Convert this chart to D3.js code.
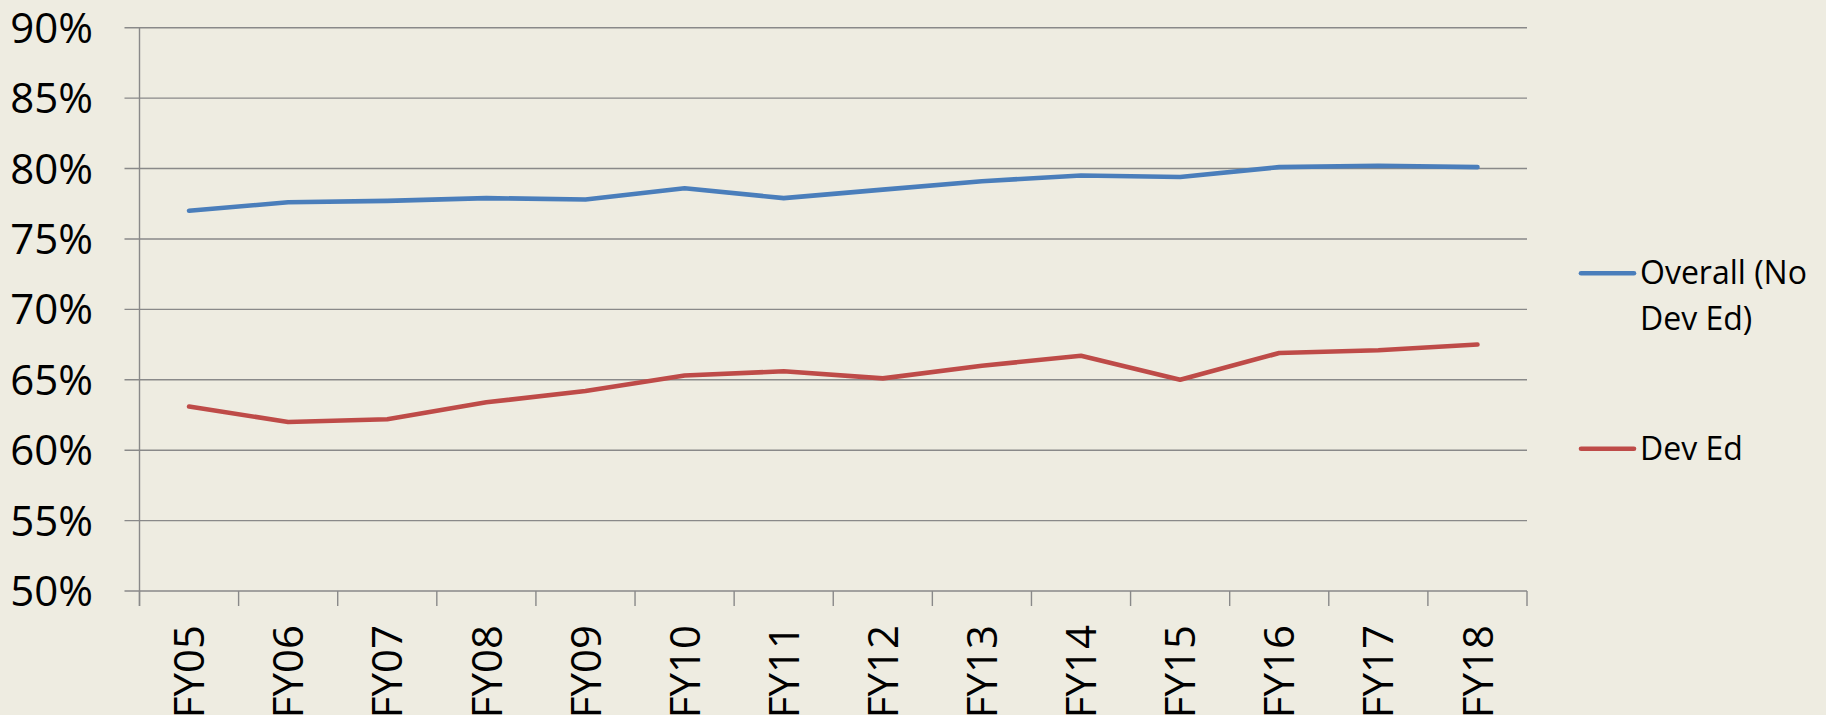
<!DOCTYPE html>
<html>
<head>
<meta charset="utf-8">
<script src="https://cdn.jsdelivr.net/npm/d3@7/dist/d3.min.js"></script>
<style>
  body { margin: 0; background: #eeece1; }
  svg { display: block; }
  text { font-family: "Open Sans", sans-serif; fill: #000; }
</style>
</head>
<body>
<div id="chart"></div>
<script>
// data
var categories = ["FY05", "FY06", "FY07", "FY08", "FY09", "FY10", "FY11",
                  "FY12", "FY13", "FY14", "FY15", "FY16", "FY17", "FY18"];
var overall = [0.770, 0.776, 0.777, 0.779, 0.778, 0.786, 0.779,
               0.785, 0.791, 0.795, 0.794, 0.801, 0.802, 0.801];
var devEd = [0.631, 0.620, 0.622, 0.634, 0.642, 0.653, 0.656,
             0.651, 0.660, 0.667, 0.650, 0.669, 0.671, 0.675];
var yTicks = [0.5, 0.55, 0.6, 0.65, 0.7, 0.75, 0.8, 0.85, 0.9];
var seriesNames = ["Overall (No Dev Ed)", "Dev Ed"];

var svgWidth = 1826;
var svgHeight = 715;
var plot = {left: 139.5, right: 1527, top: 27.7, bottom: 591};

var svg = d3.select("#chart")
            .append("svg")
            .attr("width", svgWidth)
            .attr("height", svgHeight);

svg.append("rect")
   .attr("width", svgWidth)
   .attr("height", svgHeight)
   .attr("fill", "#eeece1");

var x = d3.scaleBand()
          .domain(categories)
          .range([plot.left, plot.right])
          .padding(0);

var y = d3.scaleLinear()
          .domain([0.5, 0.9])
          .range([plot.bottom, plot.top]);

var xc = d => x(d) + x.bandwidth() / 2;
var gridColor = "#898989";

// horizontal gridlines + y labels
svg.append("g").selectAll("line")
   .data(yTicks)
   .join("line")
   .attr("x1", plot.left - 15)
   .attr("x2", plot.right)
   .attr("y1", d => y(d))
   .attr("y2", d => y(d))
   .attr("stroke", gridColor)
   .attr("stroke-width", 1.4);

svg.append("g").selectAll("text")
   .data(yTicks)
   .join("text")
   .attr("x", 93)
   .attr("y", d => y(d))
   .attr("dy", "0.36em")
   .attr("text-anchor", "end")
   .style("font-size", "42px")
   .text(d3.format(".0%"));

// y axis line
svg.append("line")
   .attr("x1", plot.left).attr("x2", plot.left)
   .attr("y1", plot.top).attr("y2", plot.bottom + 15)
   .attr("stroke", gridColor)
   .attr("stroke-width", 1.4);

// x tick marks at category boundaries
var bounds = categories.map(d => x(d)).concat([x.range()[1]]);
svg.append("g").selectAll("line")
   .data(bounds)
   .join("line")
   .attr("x1", d => d).attr("x2", d => d)
   .attr("y1", plot.bottom)
   .attr("y2", plot.bottom + 15)
   .attr("stroke", gridColor)
   .attr("stroke-width", 1.4);

// x labels, rotated
svg.append("g").selectAll("text")
   .data(categories)
   .join("text")
   .attr("transform", d => "translate(" + xc(d) + "," + (plot.bottom + 34) + ") rotate(-90)")
   .attr("dy", "0.36em")
   .attr("text-anchor", "end")
   .style("font-size", "42px")
   .text(d => d);

// lines
var line = d3.line()
             .x((d, i) => xc(categories[i]))
             .y(d => y(d));

var colors = ["#4a7ebb", "#be4b48"];
[overall, devEd].forEach(function(vals, k) {
  svg.append("path")
     .datum(vals)
     .attr("d", line)
     .attr("fill", "none")
     .attr("stroke", colors[k])
     .attr("stroke-width", 4.6)
     .attr("stroke-linejoin", "round")
     .attr("stroke-linecap", "round");
});

// legend
var legendY = [273.3, 448.7];
var legend = svg.append("g");
seriesNames.forEach(function(name, k) {
  legend.append("line")
        .attr("x1", 1581).attr("x2", 1634)
        .attr("y1", legendY[k]).attr("y2", legendY[k])
        .attr("stroke", colors[k])
        .attr("stroke-width", 4.6)
        .attr("stroke-linecap", "round");
});
var t0 = legend.append("text")
               .attr("x", 1640)
               .attr("y", 284.3)
               .style("font-size", "32px");
t0.append("tspan").attr("x", 1640).text("Overall (No");
t0.append("tspan").attr("x", 1640).attr("dy", 46).text("Dev Ed)");
legend.append("text")
      .attr("x", 1640)
      .attr("y", 460)
      .style("font-size", "32px")
      .text(seriesNames[1]);
</script>
</body>
</html>
